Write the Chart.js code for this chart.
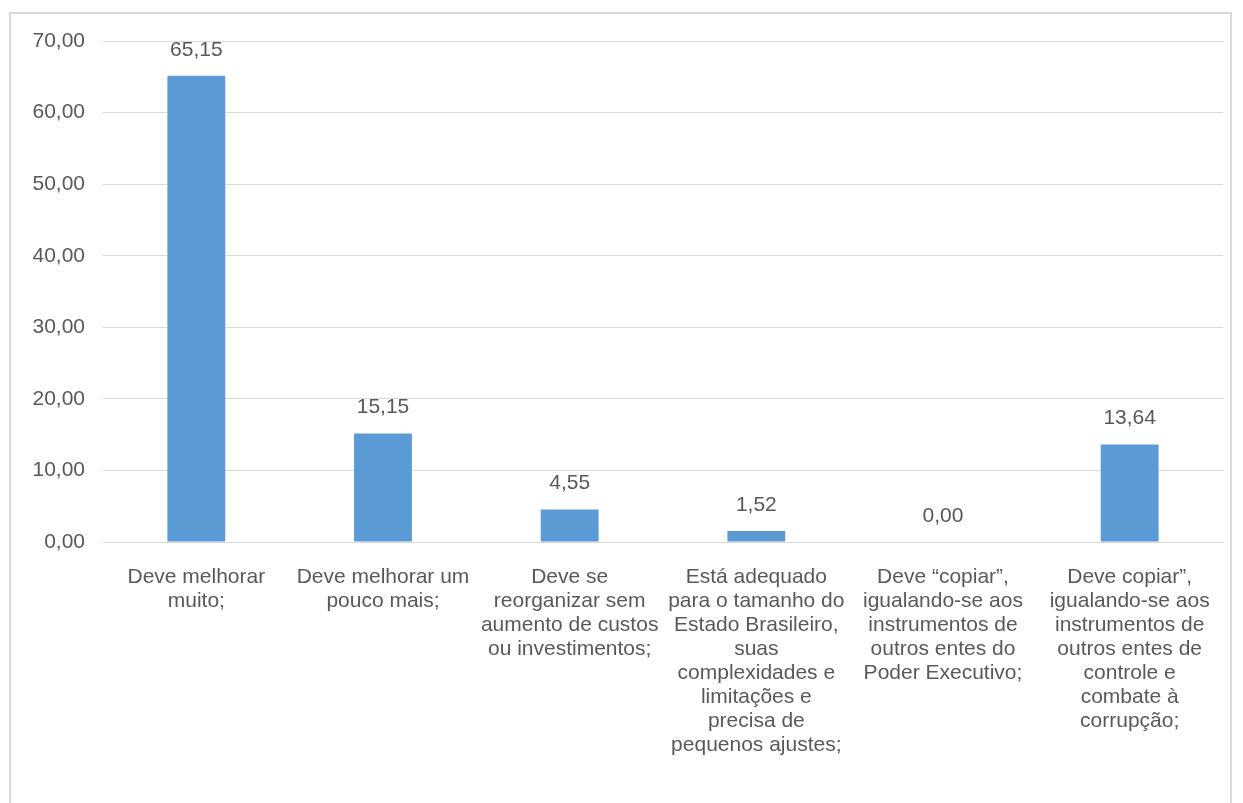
<!DOCTYPE html>
<html>
<head>
<meta charset="utf-8">
<script src="https://cdn.jsdelivr.net/npm/chart.js@4"></script>
<style>
  html, body { margin: 0; padding: 0; background: #fff; }
  body { width: 1243px; height: 803px; overflow: hidden; position: relative; }
  #frame { position: absolute; left: 9px; top: 12px; width: 1219px; height: 820px; border: 2px solid #d9d9d9; }
  #wrap { position: absolute; left: 0; top: 0; width: 1243px; height: 803px; }
</style>
</head>
<body>
<div id="frame"></div>
<div id="wrap"><canvas id="chart"></canvas></div>
<script>
const CATEGORIES = [
  ["Deve melhorar", "muito;"],
  ["Deve melhorar um", "pouco mais;"],
  ["Deve se", "reorganizar sem", "aumento de custos", "ou investimentos;"],
  ["Está adequado", "para o tamanho do", "Estado Brasileiro,", "suas", "complexidades e", "limitações e", "precisa de", "pequenos ajustes;"],
  ["Deve “copiar”,", "igualando-se aos", "instrumentos de", "outros entes do", "Poder Executivo;"],
  ["Deve copiar”,", "igualando-se aos", "instrumentos de", "outros entes de", "controle e", "combate à", "corrupção;"],
];
const VALUES = [65.15, 15.15, 4.55, 1.52, 0.00, 13.64];
const Y_TICKS = [0, 10, 20, 30, 40, 50, 60, 70];

const TEXT = "#595959";
const GRID = "#d9d9d9";
const FONT = "'Liberation Sans', Arial, sans-serif";
const SIZE = 21;

const fmt = v => v.toFixed(2).replace(".", ",");

// value labels above bars
const valueLabels = {
  id: "valueLabels",
  afterDatasetsDraw(chart) {
    const ctx = chart.ctx;
    const meta = chart.getDatasetMeta(0);
    ctx.save();
    ctx.fillStyle = TEXT;
    ctx.font = SIZE + "px " + FONT;
    ctx.textAlign = "center";
    ctx.textBaseline = "middle";
    meta.data.forEach((bar, i) => {
      ctx.fillText(fmt(VALUES[i]), bar.x, bar.y - 26);
    });
    ctx.restore();
  }
};

new Chart(document.getElementById("chart"), {
  type: "bar",
  data: {
    labels: CATEGORIES,
    datasets: [{
      data: VALUES,
      backgroundColor: "#5b9bd5",
      borderWidth: 0,
      categoryPercentage: 1,
      barPercentage: 0.31,
    }],
  },
  options: {
    responsive: true,
    maintainAspectRatio: false,
    animation: false,
    layout: { padding: { top: 41, right: 20, left: 0, bottom: 0 } },
    plugins: { legend: { display: false }, tooltip: { enabled: false } },
    scales: {
      x: {
        grid: { display: false, drawTicks: false },
        border: { color: GRID, width: 1 },
        ticks: {
          color: TEXT,
          font: { family: FONT, size: SIZE, lineHeight: "24px" },
          padding: 23,
          maxRotation: 0,
          autoSkip: false,
        },
        afterFit: s => { s.height = 261; },
      },
      y: {
        min: 0, max: 70,
        afterBuildTicks: s => { s.ticks = Y_TICKS.map(v => ({ value: v })); },
        grid: { color: GRID, drawTicks: false },
        border: { display: false },
        ticks: {
          color: TEXT,
          font: { family: FONT, size: SIZE },
          padding: 18,
          callback: v => fmt(v),
        },
        afterFit: s => { s.width = 103; },
      },
    },
  },
  plugins: [valueLabels],
});
</script>
</body>
</html>
